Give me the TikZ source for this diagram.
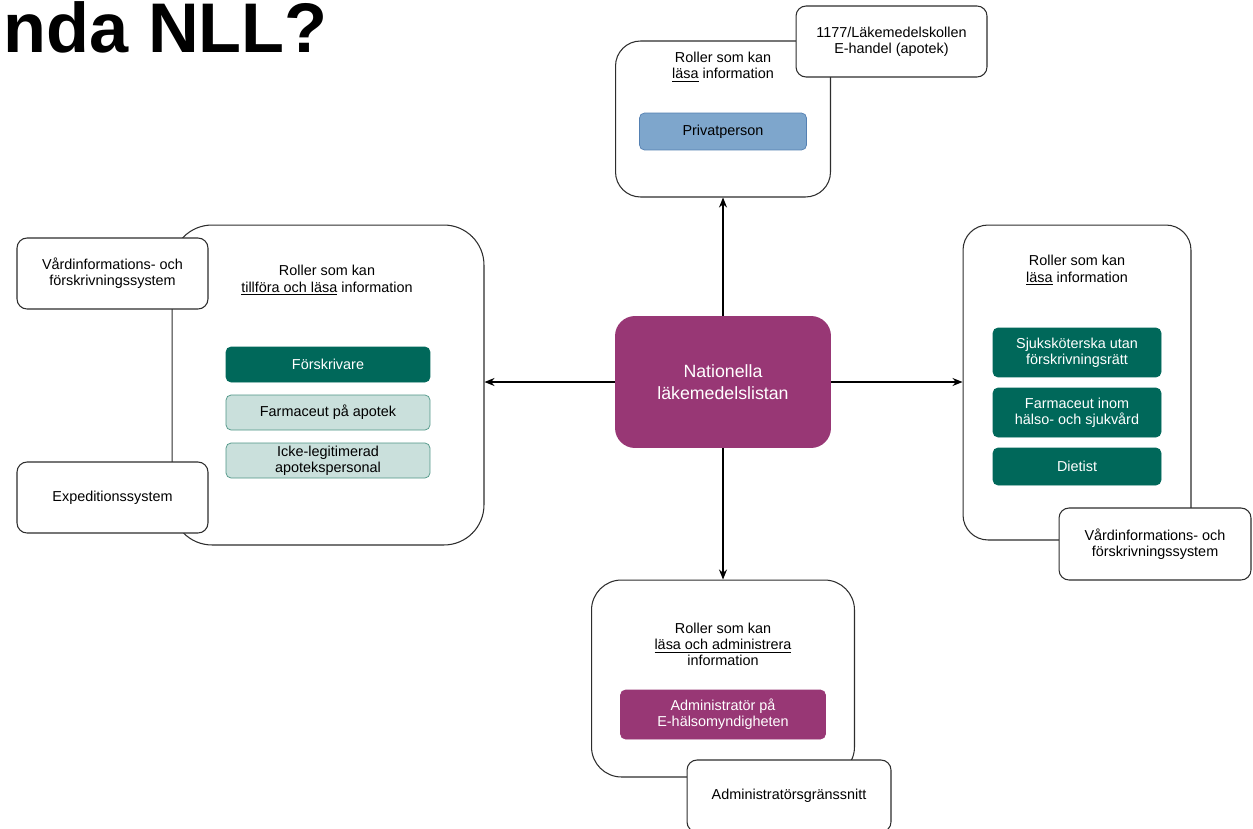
\documentclass[tikz,border=0pt]{standalone}
\usepackage{fontspec}
\setmainfont{Liberation Sans}
\usepackage{tikz}
\usepackage{xcolor}
\usetikzlibrary{positioning,arrows.meta}

\definecolor{nll-purple}{RGB}{152,55,117}
\definecolor{nll-green}{RGB}{0,104,90}
\definecolor{nll-mint}{RGB}{202,224,220}
\definecolor{nll-mintline}{RGB}{78,150,134}
\definecolor{nll-blue}{RGB}{126,166,204}
\definecolor{nll-blueline}{RGB}{84,128,178}
\definecolor{nll-line}{RGB}{45,45,45}

\begin{document}
\begin{tikzpicture}
[
x=0.02cm, y=-0.02cm,
font=\fontsize{8.2}{9.3}\selectfont,
group-a/.style={draw=nll-line, fill=white, line width=0.6pt, rounded corners=0.5cm},
sys-a/.style={draw=nll-line, fill=white, line width=0.6pt, rounded corners=0.2cm, align=center, minimum width=3.82cm, minimum height=1.42cm},
role-a/.style={fill=nll-green, draw=nll-green, text=white, rounded corners=0.1cm, align=center, minimum width=4.08cm, minimum height=0.70cm, inner sep=0pt},
role-b/.style={role-a, fill=nll-mint, draw=nll-mintline, text=black},
text-a/.style={align=center, inner sep=0pt},
link-a/.style={-{Stealth[length=2mm,width=1.6mm]}, line width=0.6pt}
]

\clip (0,0) rectangle (1253,828);

\node (title)        [anchor=base east, inner sep=0pt, font=\fontsize{40}{48}\selectfont\bfseries] at (328,53) {nda NLL?};

% mitten
\node (nll)          [fill=nll-purple, rounded corners=0.4cm, minimum width=4.32cm, minimum height=2.64cm, text=white, align=center, font=\fontsize{10.1}{12.5}\selectfont] at (723,382) {Nationella\\läkemedelslistan};

% uppe
\node (read-top)     [group-a, minimum width=4.30cm, minimum height=3.12cm] at (723,119) {};
\node (read-top-lb)  [text-a]                                                at (723,67)  {Roller som kan\\\underline{läsa} information};
\node (privat)       [role-a, fill=nll-blue, draw=nll-blueline, text=black, minimum width=3.34cm, minimum height=0.74cm] at (723,131.5) {Privatperson};
\node (sys-1177)     [sys-a]                                                 at (891.5,41.5) {1177/Läkemedelskollen\\E-handel (apotek)};

% vänster
\node (read-left)    [group-a, rounded corners=0.8cm, minimum width=6.24cm, minimum height=6.40cm] at (328,385) {};
\node (read-left-lb) [text-a]                  at (327,280.5) {Roller som kan\\\underline{tillföra och läsa} information};
\node (forskr)       [role-a]                  at (328,364.5) {Förskrivare};
\node (farm-apo)     [role-b]                  at (328,412.5) {Farmaceut på apotek};
\node (icke-leg)     [role-b]                  at (328,460.5) {Icke-legitimerad\\apotekspersonal};
\node (sys-vard-1)   [sys-a]                   at (112.5,273.5) {Vårdinformations- och\\förskrivningssystem};
\node (sys-exp)      [sys-a]                   at (112.5,497.5) {Expeditionssystem};

% höger
\node (read-right)   [group-a, minimum width=4.56cm, minimum height=6.30cm] at (1077,382.5) {};
\node (read-right-lb)[text-a]                  at (1077,270.5) {Roller som kan\\\underline{läsa} information};
\node (sjuk)         [role-a, minimum width=3.36cm, minimum height=0.98cm] at (1077,352.5) {Sjuksköterska utan\\förskrivningsrätt};
\node (farm-hs)      [role-a, minimum width=3.36cm, minimum height=0.98cm] at (1077,412.5) {Farmaceut inom\\hälso- och sjukvård};
\node (dietist)      [role-a, minimum width=3.36cm, minimum height=0.74cm] at (1077,466.5) {Dietist};
\node (sys-vard-2)   [sys-a, minimum width=3.84cm, minimum height=1.44cm]  at (1155,544) {Vårdinformations- och\\förskrivningssystem};

% nere
\node (admin-grp)    [group-a, rounded corners=0.6cm, minimum width=5.26cm, minimum height=3.94cm] at (723,678.5) {};
\node (admin-grp-lb) [text-a]                  at (723,644.5) {Roller som kan\\\underline{läsa och administrera}\\information};
\node (admin)        [role-a, fill=nll-purple, draw=nll-purple, minimum width=4.10cm, minimum height=0.98cm] at (723,714.5) {Administratör på\\E-hälsomyndigheten};
\node (sys-admin)    [sys-a, minimum width=4.08cm, minimum height=1.44cm]  at (789,796) {Administratörsgränssnitt};

\draw [link-a] (nll.north) -- (read-top.south);
\draw [link-a] (nll.south) -- (admin-grp.north);
\draw [link-a] (nll.west)  -- (nll.west -| read-left.east);
\draw [link-a] (nll.east)  -- (nll.east -| read-right.west);

\end{tikzpicture}
\end{document}
